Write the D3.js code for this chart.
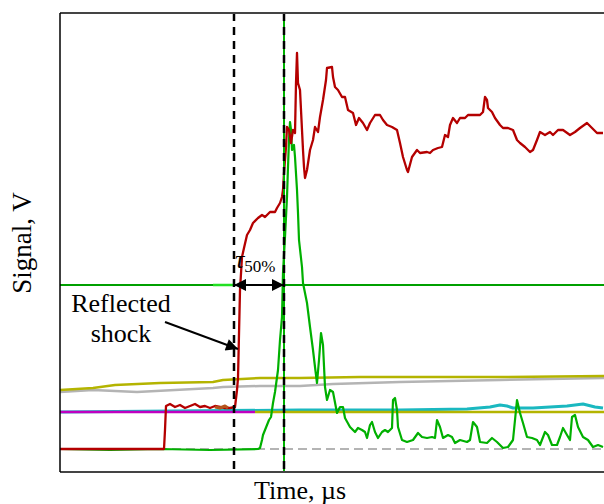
<!DOCTYPE html>
<html>
<head>
<meta charset="utf-8">
<script src="https://cdn.jsdelivr.net/npm/d3@7"></script>
<style>
  body { margin: 0; background: #fff; }
</style>
</head>
<body>
<div id="chart"></div>
<script>
// Plot size and margins
const W = 604, H = 504;
const margin = { top: 13, right: 0, bottom: 32, left: 60 };
const width = W - margin.left - margin.right;
const height = H - margin.top - margin.bottom;
const serif = "Liberation Serif";

// ---- data (time in µs, signal in V) ----
const redT = [0, 4.0, 10.4, 10.5, 10.6, 11.0, 11.5, 12.0, 12.5, 13.0, 13.5, 14.0, 14.5, 15.0, 15.5, 16.0, 16.5, 17.0, 17.5, 17.7, 17.8, 18.0, 18.2, 18.4, 18.7, 19.0, 19.3, 19.8, 20.2, 20.5, 21.0, 21.5, 21.7, 22.0, 22.2, 22.3, 22.4, 22.6, 22.7, 22.9, 23.1, 23.3, 23.5, 23.6, 23.7, 23.8, 24.0, 24.1, 24.3, 24.4, 24.5, 24.7, 25.0, 25.3, 25.5, 25.8, 26.0, 26.3, 26.6, 26.7, 27.2, 27.3, 27.5, 27.8, 28.2, 28.5, 28.8, 29.3, 29.6, 29.9, 30.3, 30.7, 31.0, 31.5, 32.0, 32.3, 32.7, 33.2, 33.7, 34.0, 34.3, 34.7, 34.8, 35.2, 35.7, 36.0, 36.7, 37.0, 37.3, 37.8, 38.2, 38.3, 38.5, 38.8, 39.0, 39.3, 39.7, 40.0, 40.5, 40.8, 41.3, 42.0, 42.3, 42.5, 42.7, 42.8, 43.2, 43.5, 44.0, 44.3, 44.8, 45.3, 45.7, 46.0, 46.5, 47.0, 47.3, 47.7, 48.0, 48.5, 49.0, 49.3, 49.8, 50.3, 51.0, 51.5, 52.0, 52.7, 53.2, 53.7, 54.3];
const redV = [0.23, 0.23, 0.23, 0.42, 0.66, 0.68, 0.65, 0.67, 0.64, 0.66, 0.68, 0.65, 0.66, 0.64, 0.66, 0.65, 0.64, 0.64, 0.65, 0.82, 0.94, 1.82, 2.15, 2.24, 2.37, 2.42, 2.49, 2.54, 2.57, 2.55, 2.60, 2.60, 2.64, 2.69, 2.75, 2.82, 2.99, 3.25, 3.45, 3.42, 3.29, 3.42, 3.39, 3.89, 4.19, 3.89, 3.82, 3.62, 3.22, 3.05, 2.94, 3.02, 3.22, 3.32, 3.45, 3.40, 3.55, 3.72, 3.92, 4.04, 4.05, 3.95, 3.85, 3.82, 3.75, 3.75, 3.62, 3.59, 3.47, 3.54, 3.49, 3.42, 3.49, 3.57, 3.57, 3.52, 3.47, 3.45, 3.42, 3.29, 3.15, 3.02, 3.00, 3.15, 3.22, 3.19, 3.20, 3.19, 3.22, 3.24, 3.25, 3.29, 3.37, 3.35, 3.47, 3.54, 3.49, 3.54, 3.54, 3.57, 3.57, 3.57, 3.60, 3.75, 3.72, 3.64, 3.60, 3.54, 3.47, 3.44, 3.44, 3.42, 3.32, 3.29, 3.25, 3.20, 3.22, 3.32, 3.40, 3.37, 3.40, 3.37, 3.42, 3.42, 3.37, 3.40, 3.44, 3.49, 3.44, 3.39, 3.39];

const greenT = [0, 5, 10, 15, 19.8, 20.0, 20.2, 20.3, 20.5, 20.7, 20.9, 21.1, 21.3, 21.5, 21.8, 22.0, 22.2, 22.3, 22.5, 22.7, 22.8, 22.9, 23.0, 23.1, 23.2, 23.4, 23.5, 23.7, 23.8, 23.9, 24.2, 24.3, 24.7, 25.0, 25.3, 25.5, 25.7, 25.9, 26.1, 26.3, 26.5, 26.7, 27.0, 27.3, 27.7, 28.0, 28.3, 28.5, 29.0, 29.5, 29.8, 30.2, 30.5, 30.7, 31.0, 31.2, 31.5, 31.8, 32.2, 32.5, 32.8, 33.2, 33.3, 33.5, 33.7, 33.8, 34.2, 34.7, 35.3, 35.8, 36.2, 36.7, 37.2, 37.5, 37.7, 38.0, 38.3, 38.8, 39.2, 39.5, 40.0, 40.7, 41.0, 41.3, 41.7, 42.0, 42.7, 43.2, 43.7, 44.3, 44.8, 45.3, 45.5, 45.7, 46.0, 46.3, 46.7, 47.2, 47.7, 48.0, 48.5, 48.8, 49.2, 49.7, 50.0, 50.3, 50.7, 51.0, 51.2, 51.5, 51.8, 52.3, 52.8, 53.3, 53.8, 54.3];
const greenV = [0.23, 0.22, 0.23, 0.22, 0.23, 0.24, 0.32, 0.37, 0.42, 0.47, 0.52, 0.55, 0.69, 0.80, 1.02, 1.32, 1.55, 1.99, 2.35, 2.75, 3.05, 3.32, 3.50, 3.42, 3.22, 3.27, 3.15, 2.82, 2.59, 2.32, 2.05, 1.89, 1.69, 1.45, 1.22, 1.05, 0.89, 1.12, 1.39, 1.27, 0.85, 0.72, 0.82, 0.80, 0.59, 0.65, 0.65, 0.54, 0.45, 0.40, 0.44, 0.42, 0.40, 0.34, 0.47, 0.50, 0.40, 0.34, 0.40, 0.42, 0.40, 0.44, 0.72, 0.74, 0.62, 0.45, 0.32, 0.30, 0.32, 0.39, 0.35, 0.34, 0.35, 0.34, 0.52, 0.45, 0.34, 0.37, 0.35, 0.29, 0.32, 0.30, 0.32, 0.50, 0.45, 0.30, 0.29, 0.34, 0.30, 0.24, 0.25, 0.32, 0.52, 0.72, 0.59, 0.49, 0.35, 0.34, 0.32, 0.27, 0.40, 0.37, 0.27, 0.27, 0.35, 0.44, 0.37, 0.32, 0.55, 0.57, 0.45, 0.35, 0.32, 0.25, 0.27, 0.25];

const oliveT = [0, 3.3, 5.5, 10, 15.3, 16.3, 20, 24, 30, 39, 44, 54.4];
const oliveV = [0.82, 0.84, 0.87, 0.89, 0.90, 0.92, 0.94, 0.94, 0.95, 0.95, 0.95, 0.96];

const grayT = [0, 3.3, 7.7, 11.5, 15.3, 16.3, 20, 24, 27.3, 34, 44, 54.4];
const grayV = [0.80, 0.82, 0.80, 0.82, 0.84, 0.85, 0.86, 0.86, 0.88, 0.90, 0.92, 0.94];

const cyanT = [0, 24, 34, 40.7, 43, 44, 44.7, 45.3, 47.3, 50.7, 52.3, 53.5, 54.3];
const cyanV = [0.60, 0.62, 0.62, 0.63, 0.65, 0.67, 0.66, 0.64, 0.64, 0.66, 0.68, 0.65, 0.64];

const levelT = [19.5, 54.4];       // flat olive reference level
const levelV = [0.60, 0.60];
const magentaT = [0, 19.5];
const magentaV = [0.60, 0.60];
const brownT = [15.5, 16.0, 16.5, 16.8];
const brownV = [0.65, 0.64, 0.66, 0.64];
const zeroT = [0, 54.4];           // dashed zero line
const zeroV = [0.23, 0.23];

const halfLevel = 1.87;            // 50% level
const markerT = [17.4, 22.4];      // reflected shock / emission front

// ---- scales ----
const x = d3.scaleLinear().domain([0, 54.4]).range([0, width]);
const y = d3.scaleLinear().domain([0, 4.59]).range([height, 0]);

const svg = d3.select("#chart").append("svg")
  .attr("width", W).attr("height", H)
  .attr("font-family", serif);

const defs = svg.append("defs");
defs.append("clipPath").attr("id", "clip")
  .append("rect").attr("width", width).attr("height", height);
defs.append("marker").attr("id", "head")
  .attr("viewBox", "0 0 10 10").attr("refX", 10).attr("refY", 5)
  .attr("markerWidth", 15).attr("markerHeight", 12)
  .attr("markerUnits", "userSpaceOnUse")
  .attr("orient", "auto-start-reverse")
  .append("path").attr("d", "M0,0L10,5L0,10Z").attr("fill", "#000");

const g = svg.append("g").attr("transform", `translate(${margin.left},${margin.top})`);
const plot = g.append("g").attr("clip-path", "url(#clip)");

const line = d3.line().x(d => x(d[0])).y(d => y(d[1]));
const pts = (t, v) => t.map((tt, i) => [tt, v[i]]);

function trace(t, v, color, w, dash) {
  return plot.append("path")
    .datum(pts(t, v))
    .attr("fill", "none")
    .attr("stroke", color)
    .attr("stroke-width", w)
    .attr("stroke-dasharray", dash || null)
    .attr("stroke-linejoin", "round")
    .attr("d", line);
}

// 50% level line
trace([0, 54.4], [halfLevel, halfLevel], "#00a000", 1.5).attr("shape-rendering", "crispEdges");
trace([15.3, 17.5], [halfLevel, halfLevel], "#22e022", 2.5);

// baseline traces
trace(zeroT, zeroV, "#b4b4b4", 2, "9,5");
trace(grayT, grayV, "#b4b4b4", 2.5);
trace(oliveT, oliveV, "#b4b400", 2.5);
trace(cyanT, cyanV, "#1ab8c0", 3);
trace(levelT, levelV, "#b4b400", 2.5);
trace(magentaT, magentaV, "#c000c0", 2.5);

// main signals
trace(greenT, greenV, "#00b000", 2.2);
trace(redT, redV, "#b40000", 2.3);
trace(brownT, brownV, "#b5541c", 3);

// vertical markers
plot.append("line")
  .attr("x1", x(markerT[1])).attr("x2", x(markerT[1]))
  .attr("y1", 0).attr("y2", height)
  .attr("stroke", "#00b000").attr("stroke-width", 2);
plot.selectAll(".vmark")
  .data(markerT)
  .enter().append("line")
  .attr("x1", d => x(d)).attr("x2", d => x(d))
  .attr("y1", 0).attr("y2", height)
  .attr("stroke", "#000").attr("stroke-width", 2.5)
  .attr("stroke-dasharray", "8,6");

// frame
g.append("line").attr("x1", 0).attr("x2", width).attr("y1", 0).attr("y2", 0)
  .attr("stroke", "#444").attr("stroke-width", 2);
g.append("line").attr("x1", 0).attr("x2", width).attr("y1", height).attr("y2", height)
  .attr("stroke", "#444").attr("stroke-width", 2);
g.append("line").attr("x1", 0).attr("x2", 0).attr("y1", 0).attr("y2", height)
  .attr("stroke", "#000").attr("stroke-width", 1.5);

// tau arrow
g.append("line")
  .attr("x1", x(markerT[0])).attr("x2", x(markerT[1]))
  .attr("y1", y(halfLevel)).attr("y2", y(halfLevel))
  .attr("stroke", "#000").attr("stroke-width", 2)
  .attr("marker-start", "url(#head)").attr("marker-end", "url(#head)");

const tau = g.append("text")
  .attr("x", x(markerT[0]) + 1).attr("y", y(halfLevel) - 17)
  .attr("font-size", 26);
tau.append("tspan").attr("font-style", "italic").text("τ");
tau.append("tspan").attr("dy", 4).attr("font-size", 17).text("50%");

// reflected shock label + arrow
g.append("text").attr("x", x(6.1)).attr("y", y(1.87) + 27)
  .attr("text-anchor", "middle").attr("font-size", 26).text("Reflected");
g.append("text").attr("x", x(6.1)).attr("y", y(1.87) + 57)
  .attr("text-anchor", "middle").attr("font-size", 26).text("shock");
g.append("line")
  .attr("x1", x(10.5)).attr("y1", y(1.5))
  .attr("x2", x(17.8)).attr("y2", y(1.23))
  .attr("stroke", "#000").attr("stroke-width", 2)
  .attr("marker-end", "url(#head)");

// axis titles
svg.append("text")
  .attr("transform", "translate(31,243) rotate(-90)")
  .attr("text-anchor", "middle").attr("font-size", 27).text("Signal, V");
svg.append("text")
  .attr("x", 300).attr("y", 499)
  .attr("text-anchor", "middle").attr("font-size", 26).text("Time, µs");
</script>
</body>
</html>
